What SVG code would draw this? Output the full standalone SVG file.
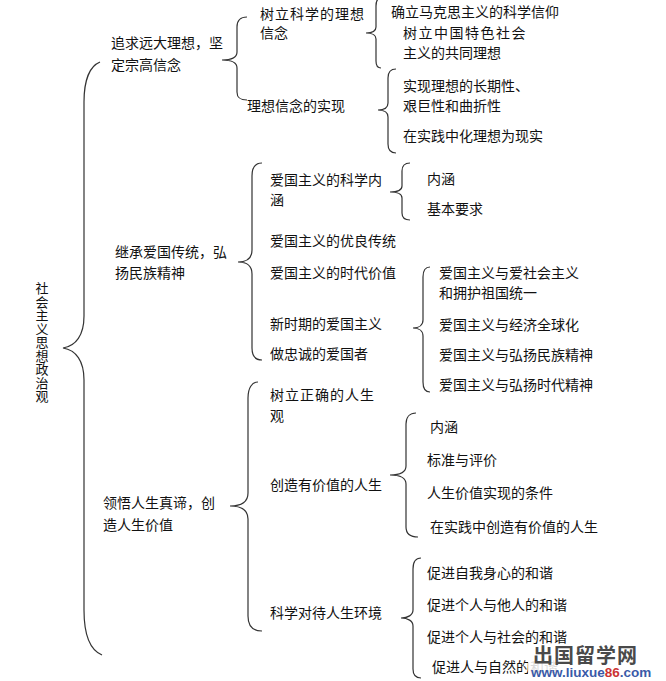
<svg xmlns="http://www.w3.org/2000/svg" width="666" height="681" viewBox="0 0 666 681">
<style>
text{font-family:"Noto Sans CJK SC","Liberation Sans",sans-serif;font-size:14px;fill:#111}
.b{fill:none;stroke:#333;stroke-width:1.2}
.sp{letter-spacing:1px}
.vt{writing-mode:vertical-rl;font-size:13px;letter-spacing:0.5px}
.wm1{font-family:"Noto Sans CJK SC",sans-serif;font-size:20px;font-weight:bold;fill:#4a4a4a;letter-spacing:1px}
.wm2{font-family:"Liberation Sans",sans-serif;font-size:13.5px;font-weight:bold;fill:#3a5aa8}
</style>
<rect width="666" height="681" fill="#fff"/>
<g id="connectors">
<path class="b" d="M100,62 C90,66 84,80 84,102 L84,316 C84,335 76,346 63,348 C76,350 84,361 84,380 L84,610 C84,635 90,650 102,655"/>
<path class="b" d="M247,17 C240,17 237,20 237,27 L237,52 C237,57 232,60 222,60 C232,60 237,63 237,68 L237,92 C237,98 240,100 247,100"/>
<path class="b" d="M381,-2 C378,-2 376,1 376,6 L376,27 C376,31 372,33 366,33 C372,33 376,35 376,39 L376,61 C376,66 378,68 381,68"/>
<path class="b" d="M396,69 C391,69 388,72 388,78 L388,103 C388,108 384,110 378,110 C384,110 388,112 388,117 L388,144 C388,150 391,153 396,153"/>
<path class="b" d="M262,163 C255,163 252,167 252,176 L252,250 C252,258 247,262 238,262 C247,262 252,266 252,274 L252,348 C252,356 255,360 262,360"/>
<path class="b" d="M410,163 C405,163 402,166 402,171 L402,186 C402,190 397,192 390,192 C397,192 402,194 402,198 L402,213 C402,218 405,220 410,220"/>
<path class="b" d="M430,267 C425,267 423,271 423,277 L423,320 C423,325 419,328 413,328 C419,328 423,331 423,336 L423,382 C423,389 425,392 430,392"/>
<path class="b" d="M258,382 C252,382 248,388 248,398 L248,493 C248,502 242,506 230,506 C242,506 248,510 248,519 L248,616 C248,626 253,631 262,631"/>
<path class="b" d="M416,413 C410,413 406,417 406,424 L406,466 C406,472 400,475 390,475 C400,475 406,478 406,484 L406,527 C406,533 410,537 418,537"/>
<path class="b" d="M421,558 C416,558 413,562 413,569 L413,610 C413,615 408,618 401,618 C408,618 413,621 413,626 L413,669 C413,675 416,678 421,678"/>
</g>
<g id="root">
<text class="vt" x="42" y="282">社会主义思想政治观</text>
</g>
<g id="n1">
<text x="111" y="48">追求远大理想，坚</text>
<text x="111" y="70">定宗高信念</text>
</g>
<g id="n1a">
<text x="260" y="19" class="sp">树立科学的理想</text>
<text x="260" y="38">信念</text>
</g>
<g id="n1a1"><text x="391" y="17">确立马克思主义的科学信仰</text></g>
<g id="n1a2">
<text x="403" y="38" style="letter-spacing:1.5px">树立中国特色社会</text>
<text x="403" y="58">主义的共同理想</text>
</g>
<g id="n1b"><text x="247" y="111">理想信念的实现</text></g>
<g id="n1b1">
<text x="403" y="91">实现理想的长期性、</text>
<text x="403" y="111">艰巨性和曲折性</text>
</g>
<g id="n1b2"><text x="403" y="141">在实践中化理想为现实</text></g>
<g id="n2">
<text x="115" y="257">继承爱国传统，弘</text>
<text x="115" y="278">扬民族精神</text>
</g>
<g id="n2a">
<text x="270" y="185">爱国主义的科学内</text>
<text x="270" y="205">涵</text>
</g>
<g id="n2a1"><text x="427" y="184">内涵</text></g>
<g id="n2a2"><text x="427" y="214">基本要求</text></g>
<g id="n2b"><text x="270" y="246">爱国主义的优良传统</text></g>
<g id="n2c"><text x="270" y="278">爱国主义的时代价值</text></g>
<g id="n2d"><text x="270" y="329">新时期的爱国主义</text></g>
<g id="n2e"><text x="270" y="359">做忠诚的爱国者</text></g>
<g id="n2d1">
<text x="439" y="278">爱国主义与爱社会主义</text>
<text x="439" y="298">和拥护祖国统一</text>
</g>
<g id="n2d2"><text x="439" y="330">爱国主义与经济全球化</text></g>
<g id="n2d3"><text x="439" y="360">爱国主义与弘扬民族精神</text></g>
<g id="n2d4"><text x="439" y="390">爱国主义与弘扬时代精神</text></g>
<g id="n3">
<text x="103" y="508">领悟人生真谛，创</text>
<text x="103" y="530">造人生价值</text>
</g>
<g id="n3a">
<text x="270" y="400" class="sp">树立正确的人生</text>
<text x="270" y="421">观</text>
</g>
<g id="n3b"><text x="270" y="490">创造有价值的人生</text></g>
<g id="n3b1"><text x="430" y="432">内涵</text></g>
<g id="n3b2"><text x="427" y="465">标准与评价</text></g>
<g id="n3b3"><text x="427" y="498">人生价值实现的条件</text></g>
<g id="n3b4"><text x="430" y="532">在实践中创造有价值的人生</text></g>
<g id="n3c"><text x="270" y="618">科学对待人生环境</text></g>
<g id="n3c1"><text x="427" y="578">促进自我身心的和谐</text></g>
<g id="n3c2"><text x="427" y="610">促进个人与他人的和谐</text></g>
<g id="n3c3"><text x="427" y="642">促进个人与社会的和谐</text></g>
<g id="n3c4"><text x="432" y="672">促进人与自然的和谐</text></g>
<g id="watermark">
<rect x="528" y="645" width="130" height="36" fill="#fff" opacity="0.85"/>
<text class="wm1" x="533" y="663">出国留学网</text>
<text class="wm2" x="531" y="677">www.liuxue<tspan fill="#cc3333">86</tspan>.com</text>
</g>
</svg>
